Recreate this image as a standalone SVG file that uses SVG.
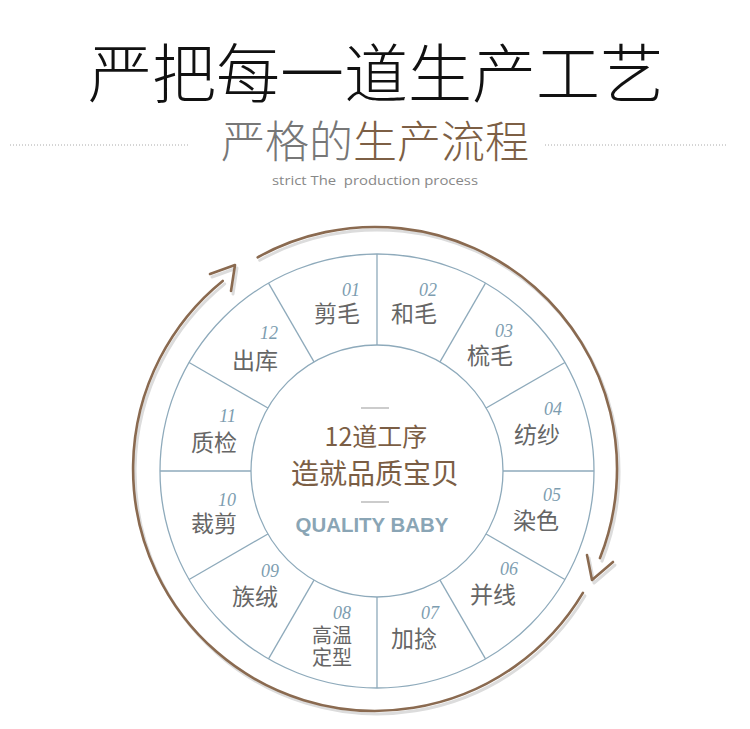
<svg xmlns="http://www.w3.org/2000/svg" width="750" height="729" viewBox="0 0 750 729">
<style>
.cjk{font-family:"Noto Sans CJK SC","Noto Sans",sans-serif;}
.title{font-size:64px;font-weight:300;fill:#111;}
.sub{font-size:44px;font-weight:300;}
.lbl{font-family:"Noto Sans CJK SC","Noto Sans",sans-serif;font-size:23px;fill:#666;text-anchor:end;}
.lbl2{font-size:20px;}
.num{font-family:"Liberation Serif",serif;font-style:italic;font-size:18px;fill:#7d9db0;text-anchor:end;}
.wheel{fill:none;stroke:#8eaabb;stroke-width:1.3;}
.arc{fill:none;stroke:#8a6a50;stroke-width:2.6;stroke-linecap:round;stroke-linejoin:round;}
.shadow{fill:none;stroke:#dcdcdc;stroke-width:3;stroke-linecap:round;stroke-linejoin:round;}
.center{font-family:"Noto Sans CJK SC","Noto Sans",sans-serif;fill:#7b5e45;text-anchor:middle;}
</style>
<rect width="750" height="729" fill="#fff"/>
<g id="title">
<text class="cjk title" x="376" y="97" text-anchor="middle">严把每一道生产工艺</text>
</g>
<g id="subtitle">
<line x1="10" y1="145" x2="190" y2="145" stroke="#aaa" stroke-width="1" stroke-dasharray="1 2"/>
<line x1="545" y1="145" x2="728" y2="145" stroke="#aaa" stroke-width="1" stroke-dasharray="1 2"/>
<text class="cjk sub" x="375" y="158" text-anchor="middle"><tspan fill="#777">严格的</tspan><tspan fill="#7d5f45">生产流程</tspan></text>
<text x="375" y="185" text-anchor="middle" xml:space="preserve" font-family="'Open Sans','Liberation Sans',sans-serif" font-size="13" fill="#888" textLength="206" lengthAdjust="spacingAndGlyphs">strict The  production process</text>
</g>
<g id="cycle-arrows">
<g transform="translate(2,3)">
<path class="shadow" d="M257.7,257.3 A242,242 0 0 1 600,558.1"/>
<path class="shadow" d="M582.9,592.9 A242,242 0 1 1 222.7,280.9"/>
<polyline class="shadow" points="210,274 235,265 231,291"/>
<polyline class="shadow" points="587,555 592,580 613,562"/>
</g>
<path class="arc" d="M257.7,257.3 A242,242 0 0 1 600,558.1"/>
<path class="arc" d="M582.9,592.9 A242,242 0 1 1 222.7,280.9"/>
<polyline class="arc" points="210,274 235,265 231,291"/>
<polyline class="arc" points="587,555 592,580 613,562"/>
</g>
<g id="wheel">
<circle class="wheel" cx="377" cy="471" r="217"/>
<circle class="wheel" cx="377" cy="471" r="126"/>
</g>
<g id="connectors" class="wheel">
<line x1="503" y1="471" x2="594" y2="471"/>
<line x1="486.1" y1="534" x2="564.9" y2="579.5"/>
<line x1="440" y1="580.1" x2="485.5" y2="658.9"/>
<line x1="377" y1="597" x2="377" y2="688"/>
<line x1="314" y1="580.1" x2="268.5" y2="658.9"/>
<line x1="267.9" y1="534" x2="189.1" y2="579.5"/>
<line x1="251" y1="471" x2="160" y2="471"/>
<line x1="267.9" y1="408" x2="189.1" y2="362.5"/>
<line x1="314" y1="361.9" x2="268.5" y2="283.1"/>
<line x1="377" y1="345" x2="377" y2="254"/>
<line x1="440" y1="361.9" x2="485.5" y2="283.1"/>
<line x1="486.1" y1="408" x2="564.9" y2="362.5"/>
</g>
<g id="step01"><text class="num" x="360" y="296">01</text><text class="lbl" x="360" y="322">剪毛</text></g>
<g id="step02"><text class="num" x="437" y="296">02</text><text class="lbl" x="437" y="322">和毛</text></g>
<g id="step03"><text class="num" x="513" y="337">03</text><text class="lbl" x="513" y="364">梳毛</text></g>
<g id="step04"><text class="num" x="562" y="415">04</text><text class="lbl" x="560" y="443">纺纱</text></g>
<g id="step05"><text class="num" x="561" y="501">05</text><text class="lbl" x="559" y="529">染色</text></g>
<g id="step06"><text class="num" x="518" y="575">06</text><text class="lbl" x="516" y="603">并线</text></g>
<g id="step07"><text class="num" x="439" y="619">07</text><text class="lbl" x="437" y="647">加捻</text></g>
<g id="step08"><text class="num" x="351" y="619">08</text><text class="lbl lbl2" x="352" y="643">高温</text><text class="lbl lbl2" x="352" y="665">定型</text></g>
<g id="step09"><text class="num" x="279" y="577">09</text><text class="lbl" x="278" y="605">族绒</text></g>
<g id="step10"><text class="num" x="236" y="506">10</text><text class="lbl" x="237" y="532">裁剪</text></g>
<g id="step11"><text class="num" x="236" y="422">11</text><text class="lbl" x="237" y="451">质检</text></g>
<g id="step12"><text class="num" x="278" y="339">12</text><text class="lbl" x="278" y="369">出库</text></g>
<g id="hub">
<line x1="361" y1="408" x2="389" y2="408" stroke="#aaa" stroke-width="1.2"/>
<text class="center" x="376" y="446" font-size="25">12道工序</text>
<text class="center" x="375" y="484" font-size="28">造就品质宝贝</text>
<line x1="361" y1="502" x2="389" y2="502" stroke="#aaa" stroke-width="1.2"/>
<text x="372" y="532" text-anchor="middle" font-family="'Liberation Sans',Arial,sans-serif" font-weight="bold" font-size="21" fill="#8aa5b5" textLength="153" lengthAdjust="spacingAndGlyphs">QUALITY BABY</text>
</g>
</svg>
